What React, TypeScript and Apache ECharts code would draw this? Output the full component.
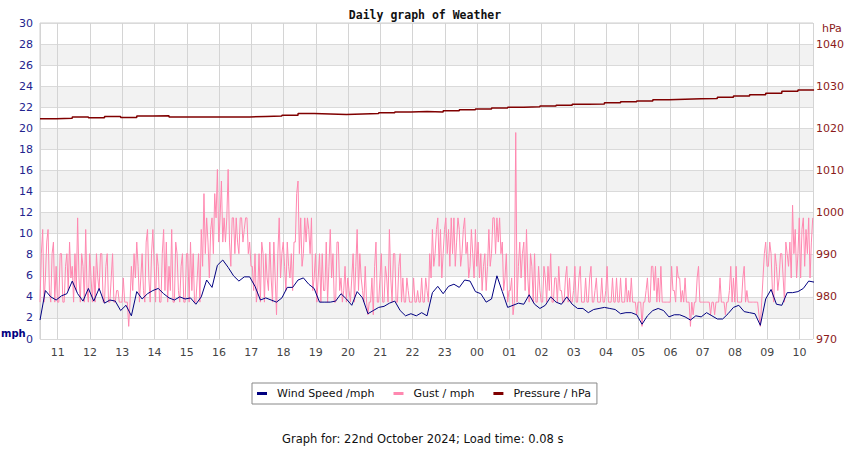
import React, { useEffect, useRef } from "react";
import * as echarts from "echarts";

// Series start 21 Oct 2024 10:27 local time
const START = new Date(2024, 9, 21, 10, 27).getTime();
const END = new Date(2024, 9, 22, 10, 25).getTime();
const MINUTE = 60000;
const WIND_STEP_MIN = 10;
const GUST_STEP_MIN = 2.5;
const PRESSURE_STEP_MIN = 30;

const SERIES_NAMES = ["Wind Speed /mph", "Gust / mph", "Pressure / hPa"];
const TITLE = "Daily graph of Weather";
const FOOTER = "Graph for: 22nd October 2024; Load time: 0.08 s";

// Wind speed (mph), every 10 minutes
const windSpeed = [
  1.8, 4.6, 4.0, 3.7, 4.1, 4.3, 5.5, 4.3, 3.6, 4.8, 3.6, 4.8, 3.4,
  3.7, 3.6, 2.7, 3.2, 2.2, 4.5, 3.8, 4.3, 4.6, 4.8, 4.3, 3.9,
  3.7, 4.0, 3.8, 3.9, 3.3, 4.0, 5.6, 4.9, 7.0, 7.5, 6.8, 6.0,
  5.5, 5.9, 5.9, 5.0, 3.7, 3.9, 3.7, 3.5, 3.9, 4.9, 4.9, 5.6,
  5.8, 5.2, 4.8, 3.5, 3.5, 3.5, 3.6, 4.3, 3.8, 3.2, 4.5, 3.9,
  2.4, 2.7, 3.0, 3.1, 3.4, 3.6, 2.7, 2.2, 2.4, 2.2, 2.5, 2.2,
  4.4, 5.0, 4.3, 5.0, 5.2, 4.9, 5.6, 5.5, 4.5, 4.3, 3.5, 3.8,
  6.0, 4.5, 3.0, 3.2, 3.4, 3.3, 4.2, 3.3, 2.9, 3.2, 4.0, 3.5,
  3.3, 4.0, 3.3, 2.9, 2.9, 2.5, 2.8, 2.9, 3.0, 2.9, 2.8, 2.4,
  2.5, 2.5, 2.3, 1.4, 2.2, 2.7, 2.9, 2.7, 2.1, 2.3, 2.3, 2.1,
  1.8, 2.2, 2.1, 2.5, 2.2, 1.9, 1.9, 2.4, 3.0, 3.2, 2.6, 2.5,
  2.4, 1.3, 3.8, 4.7, 3.3, 3.2, 4.4, 4.4, 4.5, 4.8, 5.5, 5.4,
];

// Gust (mph), every 2.5 minutes, one row per hour from 10:27
const gust = [
  3.5, 8.1, 10.4, 3.5, 5.8, 9.2, 10.4, 4.6, 3.5, 8.1, 9.2, 3.5, 6.9, 3.5, 3.5, 8.1, 8.1, 3.5, 3.5, 6.9, 8.1, 4.6, 9.2, 5.8,
  6.9, 3.5, 8.1, 4.6, 11.5, 5.8, 3.5, 8.1, 6.9, 3.5, 10.4, 4.6, 3.5, 8.1, 5.8, 3.5, 6.9, 3.5, 8.1, 5.8, 4.6, 8.1, 8.1, 3.5,
  3.5, 6.9, 8.1, 3.5, 3.5, 5.8, 8.1, 3.5, 3.5, 4.6, 4.6, 3.5, 3.5, 3.5, 5.8, 3.5, 3.5, 3.5, 1.2, 3.5, 6.9, 4.6, 8.1, 5.8,
  9.2, 6.9, 3.5, 5.8, 8.1, 4.6, 3.5, 9.2, 10.4, 5.8, 3.5, 8.1, 10.4, 6.9, 3.5, 8.1, 6.9, 3.5, 3.5, 8.1, 10.4, 4.6, 9.2, 3.5,
  6.9, 4.6, 10.4, 3.5, 3.5, 9.2, 8.1, 4.6, 3.5, 6.9, 8.1, 3.5, 3.5, 8.1, 8.1, 3.5, 9.2, 4.6, 8.1, 3.5, 3.5, 5.8, 8.1, 3.5,
  10.4, 6.9, 13.8, 8.1, 11.5, 9.2, 5.8, 10.4, 11.5, 8.1, 13.8, 11.5, 16.1, 9.2, 11.5, 15.0, 9.2, 11.5, 9.2, 11.5, 16.1, 9.2, 6.9, 11.5,
  11.5, 8.1, 11.5, 9.2, 8.1, 11.5, 11.5, 9.2, 10.4, 11.5, 11.5, 8.1, 9.2, 6.9, 6.9, 4.6, 8.1, 3.5, 4.6, 8.1, 3.5, 9.2, 8.1, 3.5,
  8.1, 5.8, 4.6, 9.2, 5.8, 3.5, 9.2, 5.8, 2.3, 8.1, 11.5, 5.8, 8.1, 9.2, 6.9, 4.6, 9.2, 6.9, 5.8, 8.1, 4.6, 9.2, 9.2, 13.8,
  15.0, 8.1, 11.5, 6.9, 8.1, 11.5, 9.2, 11.5, 10.4, 8.1, 11.5, 4.6, 5.8, 8.1, 3.5, 5.8, 8.1, 3.5, 8.1, 4.6, 4.6, 9.2, 3.5, 6.9,
  10.4, 5.8, 8.1, 3.5, 3.5, 9.2, 9.2, 4.6, 5.8, 3.5, 4.6, 6.9, 3.5, 5.8, 4.6, 3.5, 5.8, 8.1, 3.5, 6.9, 10.4, 4.6, 8.1, 5.8,
  4.6, 3.5, 6.9, 3.5, 2.3, 3.5, 3.5, 5.8, 2.3, 6.9, 9.2, 3.5, 3.5, 5.8, 8.1, 3.5, 3.5, 6.9, 5.8, 3.5, 10.4, 5.8, 3.5, 8.1,
  8.1, 3.5, 3.5, 6.9, 8.1, 3.5, 5.8, 3.5, 3.5, 5.8, 4.6, 3.5, 3.5, 3.5, 5.8, 3.5, 3.5, 4.6, 3.5, 3.5, 5.8, 3.5, 3.5, 5.8,
  4.6, 3.5, 8.1, 5.8, 10.4, 6.9, 8.1, 10.4, 11.5, 6.9, 10.4, 5.8, 8.1, 10.4, 11.5, 8.1, 10.4, 6.9, 11.5, 8.1, 11.5, 6.9, 9.2, 11.5,
  10.4, 6.9, 8.1, 10.4, 11.5, 8.1, 9.2, 5.8, 6.9, 10.4, 8.1, 5.8, 10.4, 6.9, 9.2, 5.8, 8.1, 4.6, 6.9, 8.1, 4.6, 6.9, 10.4, 6.9,
  8.1, 11.5, 11.5, 8.1, 11.5, 9.2, 11.5, 8.1, 9.2, 4.6, 5.8, 8.1, 3.5, 4.6, 4.6, 5.8, 2.3, 3.5, 19.6, 3.5, 6.9, 9.2, 5.8, 8.1,
  9.2, 4.6, 10.4, 5.8, 3.5, 8.1, 6.9, 3.5, 8.1, 3.5, 3.5, 6.9, 4.6, 3.5, 3.5, 6.9, 5.8, 3.5, 6.9, 4.6, 8.1, 3.5, 3.5, 5.8,
  5.8, 3.5, 6.9, 4.6, 4.6, 3.5, 3.5, 5.8, 6.9, 3.5, 5.8, 3.5, 3.5, 4.6, 6.9, 3.5, 3.5, 5.8, 6.9, 3.5, 3.5, 3.5, 5.8, 3.5,
  3.5, 5.8, 6.9, 3.5, 3.5, 4.6, 5.8, 3.5, 3.5, 3.5, 5.8, 3.5, 3.5, 4.6, 6.9, 3.5, 3.5, 3.5, 5.8, 3.5, 3.5, 5.8, 3.5, 3.5,
  5.8, 3.5, 3.5, 3.5, 5.8, 3.5, 4.6, 3.5, 5.8, 3.5, 3.5, 3.5, 2.3, 3.5, 3.5, 3.5, 1.2, 3.5, 3.5, 4.6, 5.8, 3.5, 3.5, 6.9,
  6.9, 4.6, 6.9, 3.5, 5.8, 3.5, 6.9, 3.5, 3.5, 3.5, 3.5, 3.5, 3.5, 3.5, 6.9, 4.6, 4.6, 3.5, 6.9, 5.8, 5.8, 3.5, 4.6, 3.5,
  5.8, 3.5, 3.5, 3.5, 1.2, 3.5, 2.3, 3.5, 3.5, 5.8, 6.9, 3.5, 3.5, 3.5, 3.5, 3.5, 3.5, 3.5, 3.5, 2.3, 3.5, 3.5, 2.3, 3.5,
  3.5, 3.5, 5.8, 3.5, 3.5, 3.5, 2.3, 3.5, 3.5, 4.6, 6.9, 3.5, 5.8, 3.5, 6.9, 3.5, 3.5, 3.5, 3.5, 5.8, 6.9, 3.5, 4.6, 3.5,
  3.5, 3.5, 3.5, 3.5, 3.5, 3.5, 3.5, 2.3, 1.2, 3.5, 5.8, 8.1, 9.2, 6.9, 6.9, 9.2, 8.1, 4.6, 3.5, 8.1, 6.9, 4.6, 5.8, 8.1,
  8.1, 5.8, 3.5, 9.2, 8.1, 6.9, 9.2, 5.8, 12.7, 8.1, 10.4, 5.8, 8.1, 11.5, 5.8, 10.4, 11.5, 6.9, 10.4, 8.1, 11.5, 5.8, 9.2, 11.5,
];

// Pressure (hPa), every 30 minutes
const pressure = [
  1022.3, 1022.4, 1022.7, 1022.5, 1022.8, 1022.6, 1022.9, 1023.0,
  1022.7, 1022.7, 1022.7, 1022.7, 1022.7, 1022.8, 1022.9, 1023.1,
  1023.5, 1023.4, 1023.3, 1023.4, 1023.5, 1023.7, 1023.9, 1024.0,
  1023.9, 1024.2, 1024.4, 1024.6, 1024.8, 1025.0, 1025.1, 1025.3,
  1025.5, 1025.7, 1025.8, 1026.1, 1026.3, 1026.5, 1026.8, 1026.9,
  1027.0, 1027.1, 1027.4, 1027.7, 1028.0, 1028.3, 1028.8, 1029.1,
  1029.1,
];

const toPairs = (vals: number[], stepMin: number) =>
  vals.map((v, i) => [START + i * stepMin * MINUTE, v]);

const FONT = "DejaVu Sans";

export default function App() {
  const ref = useRef<HTMLDivElement>(null);

  useEffect(() => {
    if (!ref.current) return;
    const chart = echarts.init(ref.current, null, { renderer: "svg" });
    chart.setOption({
      animation: false,
      backgroundColor: "#ffffff",
      title: {
        text: TITLE,
        left: "center",
        top: 4,
        textStyle: {
          fontFamily: "DejaVu Sans Mono",
          fontSize: 11.5,
          fontWeight: "bold",
          color: "#111",
        },
      },
      legend: {
        left: 252,
        top: 383,
        orient: "horizontal",
        data: SERIES_NAMES.map((n) => ({ name: n, icon: "rect" })),
        itemWidth: 10,
        itemHeight: 3,
        itemGap: 19,
        padding: [5, 6, 5, 5],
        borderColor: "#888",
        borderWidth: 1,
        textStyle: {
          fontFamily: FONT,
          fontSize: 11,
          color: "#111",
          padding: [0, 0, 0, 5],
        },
      },
      grid: {
        left: 40,
        right: 37,
        top: 23,
        bottom: 111,
        show: true,
        borderColor: "#cfcfcf",
        borderWidth: 1,
        backgroundColor: "transparent",
      },
      xAxis: {
        type: "time",
        min: START,
        max: END,
        minInterval: 3600 * 1000,
        maxInterval: 3600 * 1000,
        axisLine: { show: false },
        axisTick: { show: false },
        axisLabel: {
          formatter: "{HH}",
          fontFamily: FONT,
          fontSize: 11,
          color: "#444",
          margin: 8,
          showMinLabel: false,
          showMaxLabel: false,
        },
        splitLine: { show: true, lineStyle: { color: "#d4d4d4", width: 1 } },
      },
      yAxis: [
        {
          type: "value",
          min: 0,
          max: 30,
          interval: 2,
          axisLine: { show: false },
          axisTick: { show: false },
          axisLabel: {
            fontFamily: FONT,
            fontSize: 11,
            color: "#23238e",
            margin: 7,
          },
          splitLine: { show: true, lineStyle: { color: "#dadada", width: 1 } },
          splitArea: { show: true, areaStyle: { color: ["#ffffff", "#f2f2f2"] } },
        },
        {
          type: "value",
          min: 970,
          max: 1045,
          interval: 10,
          position: "right",
          axisLine: { show: false },
          axisTick: { show: false },
          axisLabel: {
            fontFamily: FONT,
            fontSize: 11,
            color: "#8b1a1a",
            margin: 3,
            formatter: (v: number) => (v > 1040 ? "" : String(v)),
          },
          splitLine: { show: false },
        },
      ],
      series: [
        {
          name: SERIES_NAMES[1],
          type: "line",
          yAxisIndex: 0,
          data: toPairs(gust, GUST_STEP_MIN),
          showSymbol: false,
          symbol: "none",
          color: "#ff88b0",
          lineStyle: { color: "#ff88b0", width: 1 },
          z: 2,
        },
        {
          name: SERIES_NAMES[0],
          type: "line",
          yAxisIndex: 0,
          data: toPairs(windSpeed, WIND_STEP_MIN),
          showSymbol: false,
          symbol: "none",
          color: "#000080",
          lineStyle: { color: "#000080", width: 1 },
          z: 3,
        },
        {
          name: SERIES_NAMES[2],
          type: "line",
          yAxisIndex: 1,
          data: toPairs(pressure, PRESSURE_STEP_MIN),
          showSymbol: false,
          symbol: "none",
          step: "end",
          color: "#800000",
          lineStyle: { color: "#800000", width: 1.5 },
          z: 3,
        },
      ],
      graphic: [
        {
          type: "text",
          left: 1,
          top: 328,
          style: {
            text: "mph",
            fontFamily: FONT,
            fontSize: 10,
            fontWeight: "bold",
            fill: "#000080",
          },
        },
        {
          type: "text",
          left: 822,
          top: 23,
          style: {
            text: "hPa",
            fontFamily: FONT,
            fontSize: 11,
            fill: "#8b1a1a",
          },
        },
        {
          type: "text",
          left: 282,
          top: 433,
          style: {
            text: FOOTER,
            fontFamily: FONT,
            fontSize: 11.5,
            fill: "#111",
          },
        },
      ],
    });
    return () => chart.dispose();
  }, []);

  return (
    <div
      ref={ref}
      style={{ position: "absolute", left: 0, top: 0, width: 850, height: 450, background: "#fff" }}
    />
  );
}
